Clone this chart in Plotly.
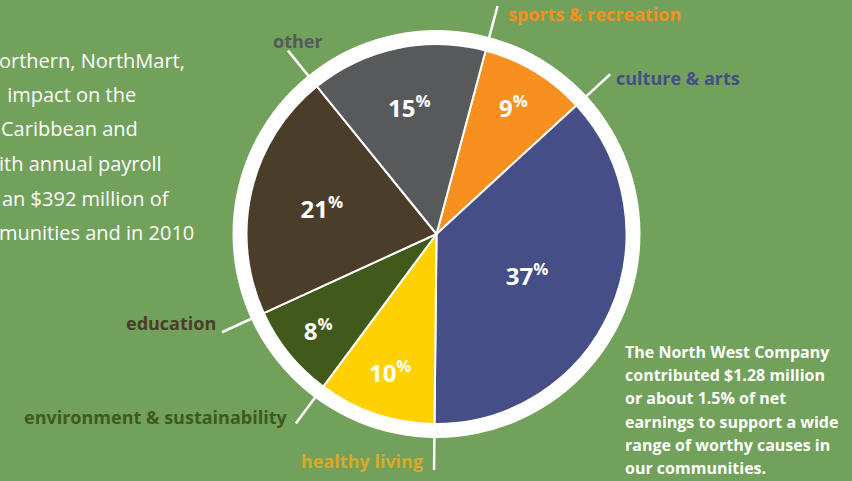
import math
import plotly.graph_objects as go

# ---- data ----
categories = ["sports & recreation", "culture & arts", "healthy living",
              "environment & sustainability", "education", "other"]
values = [9, 37, 10, 8, 21, 15]
slice_colors = ["#F7901E", "#454E86", "#FFD100", "#42591C", "#4A3D29", "#58595B"]
label_colors = ["#F7901E", "#454E86", "#DAA92A", "#3F5A1C", "#4A3D29", "#58595B"]
left_lines = ["orthern, NorthMart,", " impact on the", "Caribbean and",
              "ith annual payroll", "an $392 million of", "munities and in 2010"]
right_lines = ["The North West Company", "contributed $1.28 million",
               "or about 1.5% of net", "earnings to support a wide",
               "range of worthy causes in", "our communities."]

W, H = 852, 481
BG = "#71A15B"
CX, CY = 436.5, 234.0
R_PIE, R_RING = 190, 204
ROTATION = 15

def px_to_paper(x, y):
    return x / W, 1 - y / H

fig = go.Figure()

# white ring (background disc)
x0, y0 = px_to_paper(CX - R_RING, CY + R_RING)
x1, y1 = px_to_paper(CX + R_RING, CY - R_RING)
fig.add_trace(go.Pie(values=[1], marker=dict(colors=["white"]), textinfo="none",
                     hoverinfo="skip", sort=False, showlegend=False,
                     domain=dict(x=[x0, x1], y=[y0, y1])))

# data pie
x0, y0 = px_to_paper(CX - R_PIE, CY + R_PIE)
x1, y1 = px_to_paper(CX + R_PIE, CY - R_PIE)
fig.add_trace(go.Pie(
    labels=categories, values=values, sort=False, direction="clockwise",
    rotation=ROTATION, showlegend=False,
    marker=dict(colors=slice_colors, line=dict(color="white", width=2)),
    text=[f"{v}<sup>%</sup>" for v in values],
    textinfo="text", textposition="inside", insidetextorientation="horizontal",
    insidetextfont=dict(family="Open Sans", size=24, color="white", weight=700),
    domain=dict(x=[x0, x1], y=[y0, y1]),
))

# leader lines and labels at each slice's starting boundary
offsets = {  # xanchor, xshift, yshift
    "sports & recreation": ("left", 8, -8),
    "culture & arts": ("left", 4, -4),
    "healthy living": ("right", -9, 9),
    "environment & sustainability": ("right", -7, 6),
    "education": ("right", -4, 9),
    "other": ("center", 10, 10),
}
shapes = []
annotations = []
cum = 0
for cat, v, lc in zip(categories, values, label_colors):
    a = math.radians(ROTATION + cum * 3.6)
    cum += v
    r1, r2 = 203, 236
    p1 = px_to_paper(CX + r1 * math.sin(a), CY - r1 * math.cos(a))
    p2 = px_to_paper(CX + r2 * math.sin(a), CY - r2 * math.cos(a))
    shapes.append(dict(type="line", xref="paper", yref="paper",
                       x0=p1[0], y0=p1[1], x1=p2[0], y1=p2[1],
                       line=dict(color="white", width=2.5)))
    xa, xs, ys = offsets[cat]
    annotations.append(dict(x=p2[0], y=p2[1], xref="paper", yref="paper",
                            text=cat, showarrow=False, xanchor=xa, yanchor="middle",
                            xshift=xs, yshift=ys,
                            font=dict(family="Open Sans", size=18, color=lc, weight=700)))

# left paragraph (cut off at left edge)
left_x = [0, 3, 2, 0, 3, 0]
for i, (t, lx) in enumerate(zip(left_lines, left_x)):
    px, py = px_to_paper(lx - 3, 60 + i * 34.5)
    annotations.append(dict(x=px, y=py, xref="paper", yref="paper", text=t,
                            showarrow=False, xanchor="left", yanchor="middle",
                            font=dict(family="Open Sans", size=20, color="white")))

# right paragraph
for i, t in enumerate(right_lines):
    px, py = px_to_paper(623, 352 + i * 23.2)
    annotations.append(dict(x=px, y=py, xref="paper", yref="paper", text=t,
                            showarrow=False, xanchor="left", yanchor="middle",
                            font=dict(family="Open Sans", size=16, color="white", weight=700)))

fig.update_layout(width=W, height=H, margin=dict(l=0, r=0, t=0, b=0),
                  paper_bgcolor=BG, plot_bgcolor=BG,
                  shapes=shapes, annotations=annotations)
fig.write_html("out.html")
